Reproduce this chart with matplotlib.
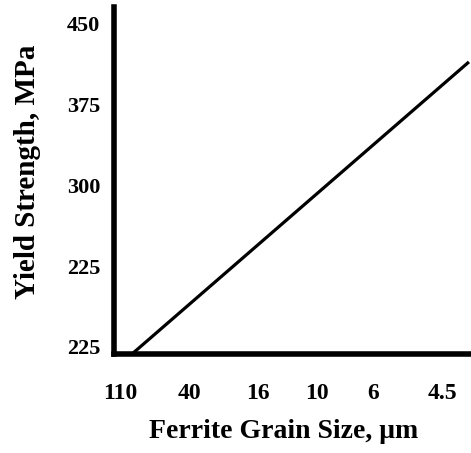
import matplotlib
matplotlib.use("Agg")
import matplotlib.pyplot as plt

# tick labels as printed on the chart (the duplicate 225 is in the original)
grain_labels = ["110", "40", "16", "10", "6", "4.5"]
grain_pos = [0.0, 1.01, 2.0, 2.86, 3.67, 4.68]
ys_labels = ["225", "225", "300", "375", "450"]
ys_pos = [0, 1, 2, 3, 4]

# straight Hall-Petch style line (axis units)
line_x = [0.174, 5.06]
line_y = [-0.087, 3.53]

plt.rcParams["font.family"] = ["Liberation Serif", "DejaVu Serif"]
plt.rcParams["font.weight"] = "bold"

fig = plt.figure(figsize=(4.71, 4.53), dpi=100)
ax = fig.add_axes([114 / 471, 99 / 453, 1 - 114 / 471, 347 / 453])

ax.plot(line_x, line_y, color="black", linewidth=2.3, solid_capstyle="butt")

ax.set_xlim(-0.087, 5.09)
ax.set_ylim(-0.087, 4.21)

ax.set_xticks(grain_pos)
ax.set_xticklabels(grain_labels, fontsize=17, fontweight="bold")
ax.set_yticks(ys_pos)
ax.set_yticklabels(ys_labels, fontsize=16, fontweight="bold")
ax.tick_params(axis="x", length=0, pad=21)
ax.tick_params(axis="y", length=0, pad=10)

for side in ["top", "right"]:
    ax.spines[side].set_visible(False)
for side in ["left", "bottom"]:
    ax.spines[side].set_linewidth(4)

ax.set_xlabel("Ferrite Grain Size, μm", fontsize=20, fontweight="bold")
ax.set_ylabel("Yield Strength, MPa", fontsize=21, fontweight="bold")
# label positions in axes fraction, matched to the picture
ax.xaxis.set_label_coords((284 - 114) / 357, -(432 - 354) / 347)
ax.yaxis.set_label_coords(-(114 - 28) / 357, (354 - 172) / 347)
ax.xaxis.label.set_va("center")
ax.yaxis.label.set_va("center")

fig.savefig("out.png", dpi=100)
